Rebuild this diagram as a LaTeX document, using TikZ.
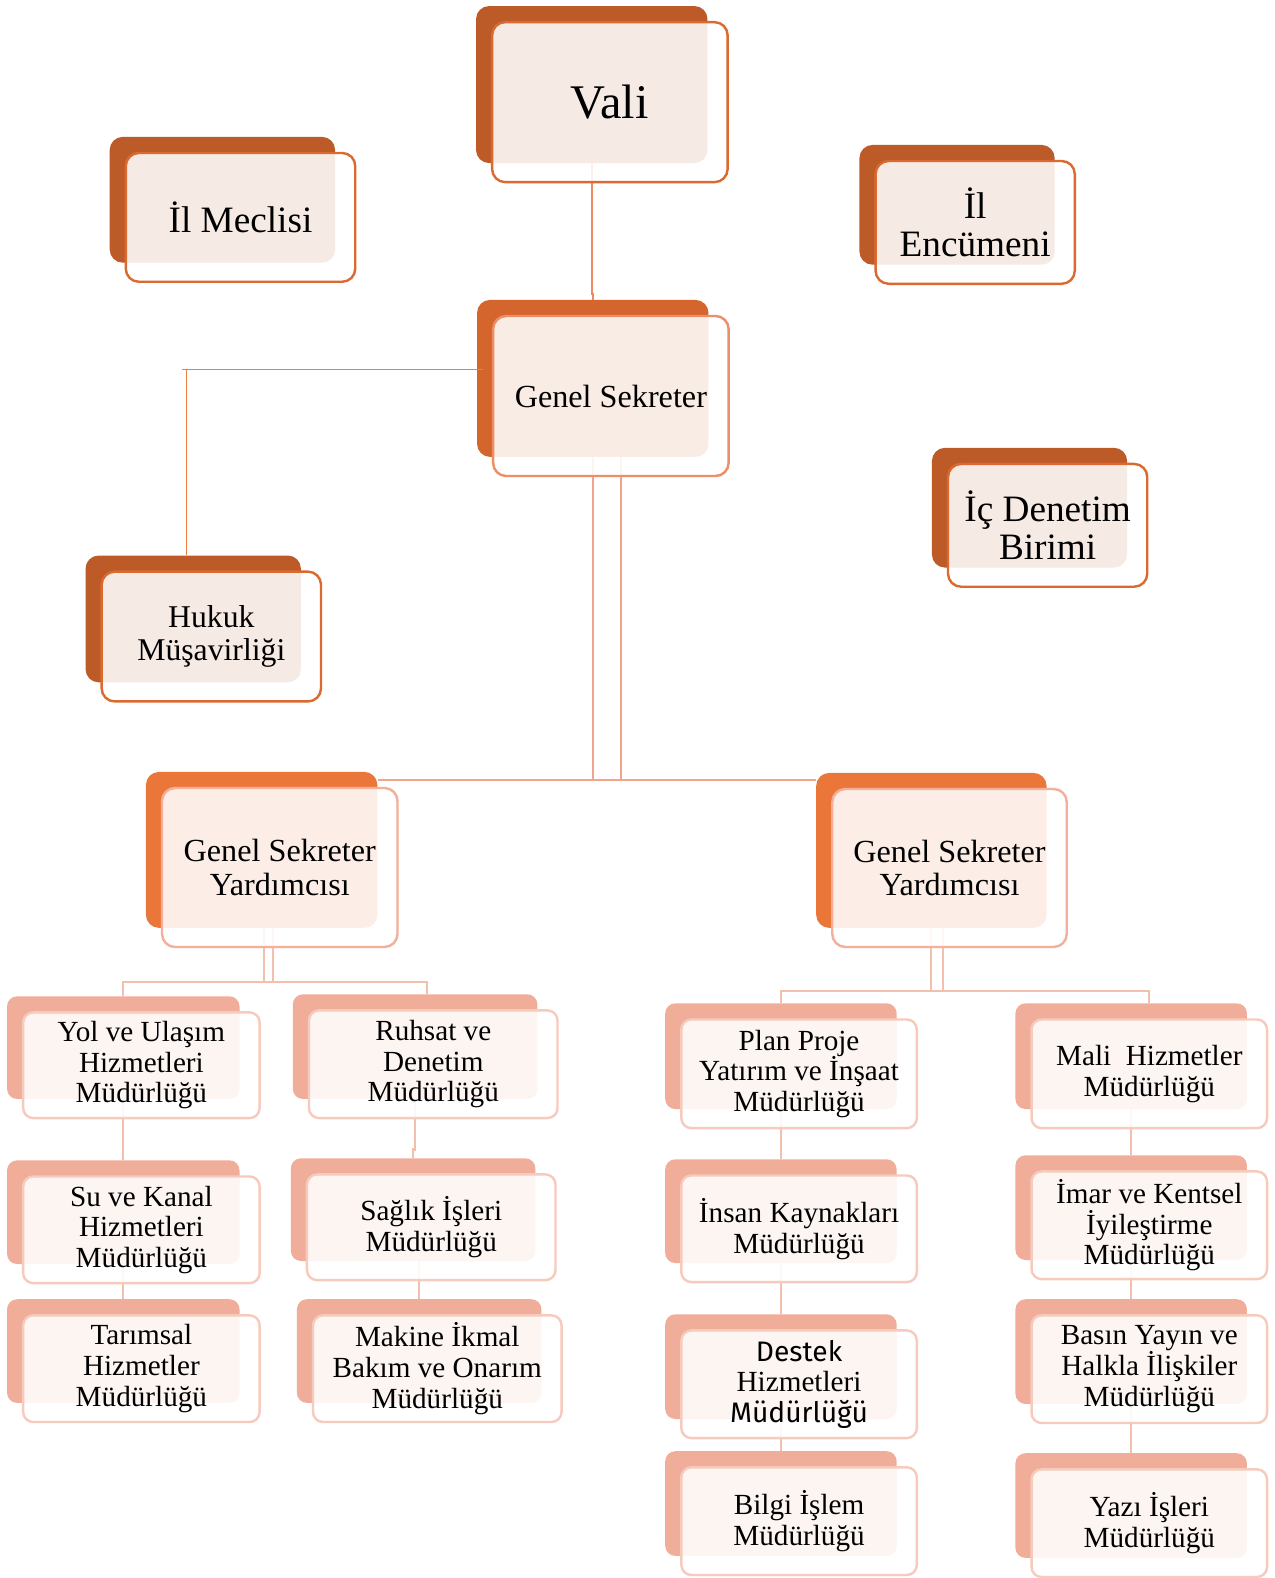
\documentclass[tikz,border=0pt]{standalone}
\usepackage{fontspec}
\setmainfont{Liberation Serif}
\newfontfamily\dsans{Fira Sans}
\usetikzlibrary{fit}
\definecolor{darkB}{HTML}{BC5A28}
\definecolor{darkF}{HTML}{DA6A30}
\definecolor{gsB}{HTML}{D4652D}
\definecolor{gsF}{HTML}{EE8E68}
\definecolor{gsyB}{HTML}{EA763A}
\definecolor{gsyF}{HTML}{F3AF99}
\definecolor{lowB}{HTML}{F0AE9A}
\definecolor{lowF}{HTML}{F6CABC}
\definecolor{cA}{HTML}{EC8B62}
\definecolor{cB}{HTML}{EE7E3C}
\definecolor{cC}{HTML}{F0A68E}
\definecolor{cD}{HTML}{F4C0AE}
\pgfdeclarelayer{bgl}
\pgfdeclarelayer{backl}
\pgfdeclarelayer{linel}
\pgfsetlayers{bgl,backl,linel,main}
\tikzset{
  backbox/.style={inner sep=0pt, rounded corners=13pt, draw=none},
  frontbox/.style={inner sep=0pt, rounded corners=13pt, fill=white, fill opacity=0.88, line width=2.4pt},
  backA/.style={backbox, fill=darkB}, frontA/.style={frontbox, draw=darkF},
  backB/.style={backbox, fill=gsB}, frontB/.style={frontbox, draw=gsF},
  backC/.style={backbox, fill=gsyB}, frontC/.style={frontbox, draw=gsyF},
  backD/.style={backbox, fill=lowB, rounded corners=10pt}, frontD/.style={frontbox, draw=lowF, rounded corners=10pt},
  label/.style={inner sep=0pt, align=center, text=black},
  fvali/.style={font=\fontsize{48}{50}\selectfont},
  fbig/.style={font=\fontsize{37}{38}\selectfont},
  fhuk/.style={font=\fontsize{31.5}{33}\selectfont},
  fgs/.style={font=\fontsize{32}{33}\selectfont},
  flow/.style={font=\fontsize{29}{30.5}\selectfont},
  c1/.style={draw=cA, line width=2pt},
  c2/.style={draw=cB, line width=1.3pt},
  c3/.style={draw=cC, line width=2pt},
  c4/.style={draw=cD, line width=2pt},
}
\newcommand\obox[8]{%
  \begin{pgfonlayer}{backl}\node[back#2, fit={(#4,#5) (#6,#7)}] (#1B) {};\end{pgfonlayer}
  \node[front#2, fit={(#4+16,#5+16) (#6+20,#7+19)}] (#1) {};
  \node[label, #3] (#1T) at (#1.center) {#8};}
\begin{document}
\begin{tikzpicture}[x=1pt,y=-1pt]
\begin{pgfonlayer}{bgl}
\fill[white] (0,0) rectangle (1266,1568);
\end{pgfonlayer}
\useasboundingbox (0,0) rectangle (1266,1568);
% top level
\obox{vali}{A}{fvali}{473}{6}{703}{162}{Vali}
\obox{meclis}{A}{fbig}{109}{136}{333}{261}{İl Meclisi}
\obox{encumen}{A}{fbig}{854}{144}{1048}{263}{İl\\Encümeni}
\obox{icden}{A}{fbig}{926}{445}{1120}{564}{İç Denetim\\Birimi}
\obox{hukuk}{A}{fhuk}{85}{552}{299}{678}{Hukuk\\Müşavirliği}
\obox{gs}{B}{fgs}{474}{298}{704}{454}{Genel Sekreter}
\obox{gsyl}{C}{fgs}{145}{767}{375}{922}{Genel Sekreter\\Yardımcısı}
\obox{gsyr}{C}{fgs}{811}{768}{1040}{922}{Genel Sekreter\\Yardımcısı}
% left column groups
\obox{yol}{D}{flow}{7}{990}{238}{1092}{Yol ve Ulaşım\\Hizmetleri\\Müdürlüğü}
\obox{ruhsat}{D}{flow}{291}{988}{534}{1092}{Ruhsat ve\\Denetim\\Müdürlüğü}
\obox{su}{D}{flow}{7}{1153}{238}{1256}{Su ve Kanal\\Hizmetleri\\Müdürlüğü}
\obox{saglik}{D}{flow}{289}{1151}{532}{1253}{Sağlık İşleri\\Müdürlüğü}
\obox{tarim}{D}{flow}{7}{1291}{238}{1394}{Tarımsal\\Hizmetler\\Müdürlüğü}
\obox{makine}{D}{flow}{295}{1291}{538}{1394}{Makine İkmal\\Bakım ve Onarım\\Müdürlüğü}
% right groups
\obox{plan}{D}{flow}{661}{997}{891}{1102}{Plan Proje\\Yatırım ve İnşaat\\Müdürlüğü}
\obox{mali}{D}{flow}{1009}{997}{1239}{1102}{Mali~~Hizmetler\\Müdürlüğü}
\obox{insan}{D}{flow}{661}{1152}{891}{1255}{İnsan Kaynakları\\Müdürlüğü}
\obox{imar}{D}{flow}{1009}{1148}{1239}{1252}{İmar ve Kentsel\\İyileştirme\\Müdürlüğü}
\obox{destek}{D}{flow}{661}{1306}{891}{1410}{{\dsans\fontsize{28}{31.5}\selectfont Destek}\\Hizmetleri\\{\dsans\fontsize{28}{31.5}\selectfont Müdürlüğü}}
\obox{basin}{D}{flow}{1009}{1291}{1239}{1395}{Basın Yayın ve\\Halkla İlişkiler\\Müdürlüğü}
\obox{bilgi}{D}{flow}{661}{1442}{891}{1546}{Bilgi İşlem\\Müdürlüğü}
\obox{yazi}{D}{flow}{1009}{1444}{1239}{1548}{Yazı İşleri\\Müdürlüğü}
% connectors
\begin{pgfonlayer}{linel}
\draw[c1] (valiB.south) -- ++(0,130) -| (gsB.north);
\coordinate (hk) at (185,367);
\draw[c2] (hukukB.north -| hk) -- (hk) -- (gsB.west |- hk) -- ++(6,0);
\draw[c2] (hk) -- ++(-4,0);
\coordinate (jA) at (589,775);
\coordinate (jB) at (617,775);
\draw[c3] (gsB.south) -- (jA) -- (gsylB.north east |- jA);
\draw[c3] (gsB.south -| jB) -- (jB) -- (gsyrB.north west |- jB);
\draw[c3] (jA) -- (jB);
\coordinate (lb1) at (262,976);
\coordinate (lb2) at (271,976);
\coordinate (rt) at ([xshift=12pt]ruhsatB.north);
\draw[c4] (gsylB.south -| lb1) -- (lb1) -| (yolB.north);
\draw[c4] (gsylB.south -| lb2) -- (lb2) -| (rt);
\draw[c4] (lb1) -- (lb2);
\coordinate (rb1) at (925,985);
\coordinate (rb2) at (937,985);
\draw[c4] (gsyrB.south -| rb1) -- (rb1) -| (planB.north);
\draw[c4] (gsyrB.south -| rb2) -- (rb2) -| (mali.north |- maliB.north);
\draw[c4] (rb1) -- (rb2);
\draw[c4] (yolB.south) -- (suB.north);
\draw[c4] (suB.south) -- (tarimB.north);
\draw[c4] (ruhsatB.south) -- ++(0,50) -| (saglikB.north);
\draw[c4] (makineB.north |- saglikB.south) -- (makineB.north);
\draw[c4] (planB.south) -- (insanB.north);
\draw[c4] (insanB.south) -- (destekB.north);
\draw[c4] (destekB.south) -- (bilgiB.north);
\draw[c4] (maliB.south) -- (imarB.north);
\draw[c4] (imarB.south) -- (basinB.north);
\draw[c4] (basinB.south) -- (yaziB.north);
\end{pgfonlayer}
\end{tikzpicture}
\end{document}
